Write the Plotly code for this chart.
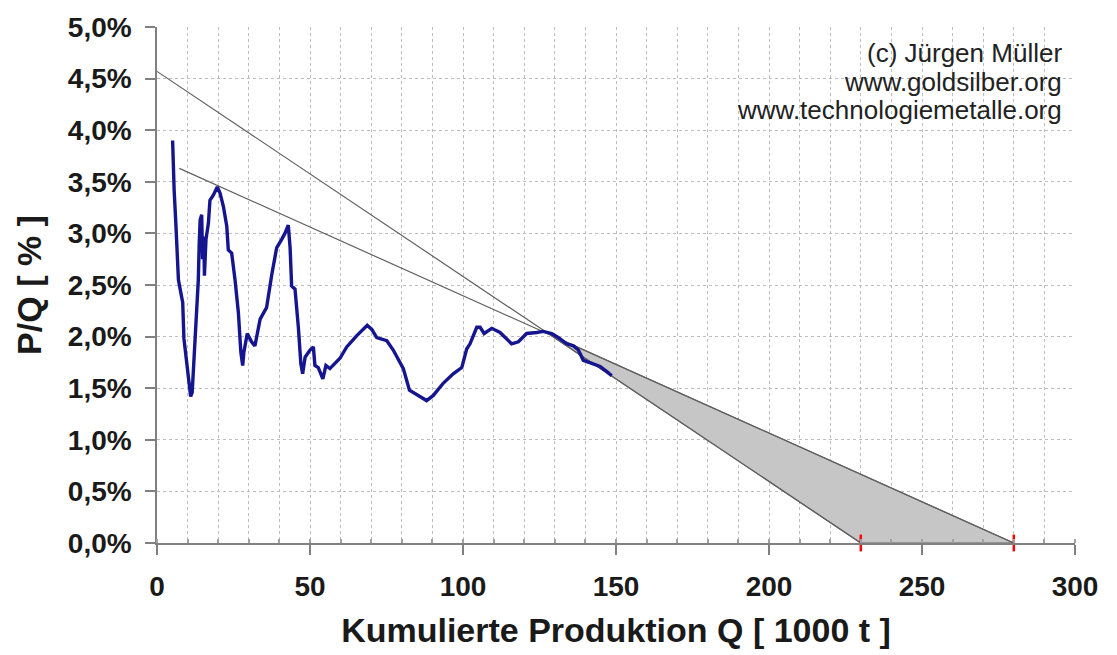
import numpy as np
import plotly.graph_objects as go

# Cumulative production Q [1000 t] and P/Q [%]
q_values = [5.1, 5.3, 5.6, 6.2, 7.0, 7.5, 8.4, 8.8, 9.9, 11.0, 11.5, 12.4, 13.0, 13.5, 13.8,
            14.1, 14.6, 14.9, 15.3, 15.5, 16.0, 16.8, 17.3, 18.4, 19.7, 20.6, 21.7, 22.8,
            23.3, 24.4, 25.5, 26.6, 27.4, 28.0, 28.4, 29.5, 30.9, 32.0, 33.7, 35.8, 37.5,
            39.1, 40.7, 41.8, 42.9, 43.5, 44.0, 45.1, 46.2, 47.0, 47.6, 48.4, 50.0, 51.1,
            51.6, 52.7, 54.2, 55.2, 56.5, 59.8, 62.0, 65.3, 68.7, 70.2, 71.8, 75.1, 77.2,
            80.5, 82.5, 84.9, 88.1, 90.3, 93.6, 96.8, 99.6, 101.2, 102.3, 104.5, 105.6,
            106.9, 109.4, 112.1, 115.9, 118.1, 120.8, 124.1, 126.2, 129.0, 131.2, 133.9,
            136.1, 137.7, 139.3, 142.1, 144.8, 147.0, 148.6]
pq_values = [3.90, 3.66, 3.42, 3.07, 2.55, 2.47, 2.33, 1.98, 1.72, 1.42, 1.46, 1.95, 2.27, 2.55, 2.91,
             3.13, 3.18, 2.75, 2.97, 2.59, 2.94, 3.10, 3.32, 3.37, 3.45, 3.39, 3.26, 3.07,
             2.84, 2.81, 2.55, 2.23, 1.85, 1.72, 1.85, 2.03, 1.95, 1.91, 2.17, 2.28, 2.60,
             2.86, 2.94, 3.00, 3.08, 2.86, 2.49, 2.46, 2.09, 1.74, 1.64, 1.80, 1.87, 1.90,
             1.72, 1.70, 1.59, 1.72, 1.69, 1.79, 1.90, 2.01, 2.11, 2.07, 1.99, 1.96, 1.87,
             1.69, 1.48, 1.44, 1.38, 1.43, 1.55, 1.64, 1.70, 1.88, 1.93, 2.09, 2.09,
             2.03, 2.08, 2.04, 1.93, 1.95, 2.03, 2.04, 2.05, 2.03, 1.99, 1.93,
             1.91, 1.87, 1.77, 1.74, 1.71, 1.66, 1.62]

# Trend lines (Hubbert-style linearisation)
trend_low_x = [0, 230]
trend_low_y = [4.57, 0.0]
trend_high_x = [7.3, 280]
trend_high_y = [3.63, 0.0]
depletion_q = [230, 280]

x_ticks = [0, 50, 100, 150, 200, 250, 300]
y_ticks = [0, 0.5, 1.0, 1.5, 2.0, 2.5, 3.0, 3.5, 4.0, 4.5, 5.0]
y_tick_labels = [f"{v:.1f}".replace(".", ",") + "%" for v in y_ticks]

credit_lines = ["(c) Jürgen Müller", "www.goldsilber.org", "www.technologiemetalle.org"]

# intersection of the two trend lines
def line_coef(xs, ys):
    m = (ys[1] - ys[0]) / (xs[1] - xs[0])
    return m, ys[0] - m * xs[0]

m1, b1 = line_coef(trend_low_x, trend_low_y)
m2, b2 = line_coef(trend_high_x, trend_high_y)
x_int = (b2 - b1) / (m1 - m2)
y_int = m1 * x_int + b1

FONT = "Liberation Sans, Arial, sans-serif"
TREND_COLOR = "#606060"

fig = go.Figure()
fig.add_trace(go.Scatter(
    x=[x_int, trend_high_x[1], trend_low_x[1], x_int],
    y=[y_int, trend_high_y[1], trend_low_y[1], y_int],
    fill="toself", fillcolor="#c6c6c6", mode="lines",
    line=dict(color=TREND_COLOR, width=1.2), hoverinfo="skip", showlegend=False))
fig.add_trace(go.Scatter(x=trend_low_x, y=trend_low_y, mode="lines",
                         line=dict(color=TREND_COLOR, width=1.2), showlegend=False))
fig.add_trace(go.Scatter(x=trend_high_x, y=trend_high_y, mode="lines",
                         line=dict(color=TREND_COLOR, width=1.2), showlegend=False))
fig.add_trace(go.Scatter(x=q_values, y=pq_values, mode="lines",
                         line=dict(color="#15158f", width=3.4), showlegend=False))
fig.add_trace(go.Scatter(x=depletion_q, y=[0, 0], mode="markers",
                         marker=dict(symbol="line-ns", size=12,
                                     line=dict(color="#ff0000", width=2.5)),
                         cliponaxis=False, showlegend=False))

credit_y = [0.95, 0.894, 0.839]
for txt, yy in zip(credit_lines, credit_y):
    fig.add_annotation(
        text=txt, xref="paper", yref="paper", x=0.9885, y=yy,
        xanchor="right", yanchor="middle", showarrow=False,
        font=dict(family=FONT, size=26, color="#222222"))

fig.update_layout(
    width=1117, height=655,
    margin=dict(l=157, r=42, t=23, b=111),
    paper_bgcolor="white", plot_bgcolor="white",
    font=dict(family=FONT, color="#1a1a1a"),
    xaxis=dict(
        range=[0, 300], tickvals=x_ticks, ticks="outside", ticklen=10,
        tickcolor="#808080", tickwidth=1.5,
        showline=True, linecolor="#808080", linewidth=1.5,
        showgrid=True, gridcolor="#bdbdbd", griddash="dot", gridwidth=1,
        minor=dict(dtick=10, showgrid=True, gridcolor="#bdbdbd", griddash="dot",
                   ticks="inside", ticklen=4, tickcolor="#a0a0a0"),
        zeroline=False, ticklabelstandoff=8,
        tickfont=dict(size=28, family=FONT, weight="bold"),
        title=dict(text="Kumulierte Produktion Q [ 1000 t ]", standoff=17,
                   font=dict(size=34, family=FONT, weight="bold")),
    ),
    yaxis=dict(
        range=[0, 5], tickvals=y_ticks, ticktext=y_tick_labels,
        ticks="outside", ticklen=10, tickcolor="#808080", tickwidth=1.5,
        showline=True, linecolor="#808080", linewidth=1.5,
        showgrid=True, gridcolor="#bdbdbd", griddash="dot", gridwidth=1,
        zeroline=False, ticklabelstandoff=8,
        tickfont=dict(size=28, family=FONT, weight="bold"),
        title=dict(text="P/Q [ % ]", standoff=16,
                   font=dict(size=34, family=FONT, weight="bold")),
    ),
)

fig.write_html("out.html", config={"displayModeBar": False},
               post_script="document.body.style.margin='0';document.body.style.overflow='hidden';")
